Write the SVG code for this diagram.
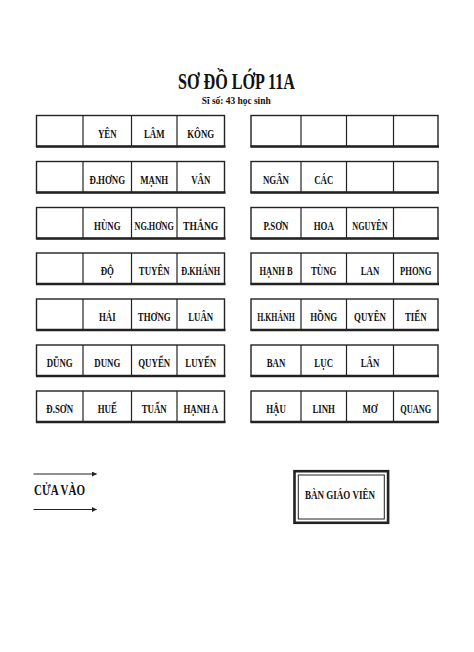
<svg xmlns="http://www.w3.org/2000/svg" width="474" height="652" viewBox="0 0 474 652">
<style>
.bg{fill:#fff}
.box{fill:#fff;stroke:#222;stroke-width:1.4}
.bot{stroke:#222;stroke-width:2.6}
.div{stroke:#222;stroke-width:1.2}
.t{font-family:"Liberation Serif","Times New Roman",serif;font-weight:bold;fill:#111}
.c{font-size:13px;text-anchor:middle}
.arr{stroke:#222;stroke-width:1.1;fill:none}
</style>
<defs>
<marker id="ah" viewBox="0 0 6 6" refX="5.5" refY="3" markerWidth="5" markerHeight="5" markerUnits="userSpaceOnUse" orient="auto"><path d="M0,0 L6,3 L0,6 Z" fill="#222"/></marker>
<g id="rowL">
<rect class="box" x="36.5" y="0" width="188" height="31"/>
<line class="bot" x1="36" y1="31" x2="225.5" y2="31"/>
<line class="div" x1="83" y1="0" x2="83" y2="31"/>
<line class="div" x1="131.5" y1="0" x2="131.5" y2="31"/>
<line class="div" x1="177" y1="0" x2="177" y2="31"/>
</g>
<g id="rowR">
<rect class="box" x="251" y="0" width="187" height="31"/>
<line class="bot" x1="250.5" y1="31" x2="439" y2="31"/>
<line class="div" x1="301" y1="0" x2="301" y2="31"/>
<line class="div" x1="346.5" y1="0" x2="346.5" y2="31"/>
<line class="div" x1="393.5" y1="0" x2="393.5" y2="31"/>
</g>
</defs>
<rect class="bg" x="0" y="0" width="474" height="652"/>

<g id="title">
<text class="t" x="236.5" y="88.5" font-size="24" text-anchor="middle" textLength="117" lengthAdjust="spacingAndGlyphs">SƠ ĐỒ LỚP 11A</text>
<text class="t" x="236.2" y="103.5" font-size="10.5" text-anchor="middle" textLength="69" lengthAdjust="spacingAndGlyphs">Sĩ số: 43 học sinh</text>
</g>

<g id="left-table">
<g id="L1" transform="translate(0,115.5)"><use href="#rowL"/>
<text class="t c" transform="translate(107.3,22) scale(0.68,1)">YÊN</text>
<text class="t c" transform="translate(154.2,22) scale(0.68,1)">LÂM</text>
<text class="t c" transform="translate(200.7,22) scale(0.68,1)">KÔNG</text></g>
<g id="L2" transform="translate(0,161.5)"><use href="#rowL"/>
<text class="t c" transform="translate(107.3,22) scale(0.68,1)">Đ.HƠNG</text>
<text class="t c" transform="translate(154.2,22) scale(0.68,1)">MẠNH</text>
<text class="t c" transform="translate(200.7,22) scale(0.68,1)">VÂN</text></g>
<g id="L3" transform="translate(0,207.5)"><use href="#rowL"/>
<text class="t c" transform="translate(107.3,22) scale(0.68,1)">HÙNG</text>
<text class="t c" transform="translate(154.2,22) scale(0.63,1)">NG.HƠNG</text>
<text class="t c" transform="translate(200.7,22) scale(0.74,1)">THẮNG</text></g>
<g id="L4" transform="translate(0,253)"><use href="#rowL"/>
<text class="t c" transform="translate(107.3,22) scale(0.68,1)">ĐỘ</text>
<text class="t c" transform="translate(154.2,22) scale(0.68,1)">TUYÊN</text>
<text class="t c" transform="translate(200.7,22) scale(0.63,1)">Đ.KHÁNH</text></g>
<g id="L5" transform="translate(0,299)"><use href="#rowL"/>
<text class="t c" transform="translate(107.3,22) scale(0.68,1)">HẢI</text>
<text class="t c" transform="translate(154.2,22) scale(0.68,1)">THƠNG</text>
<text class="t c" transform="translate(200.7,22) scale(0.68,1)">LUÂN</text></g>
<g id="L6" transform="translate(0,345)"><use href="#rowL"/>
<text class="t c" transform="translate(59.7,22) scale(0.68,1)">DŨNG</text>
<text class="t c" transform="translate(107.3,22) scale(0.68,1)">DUNG</text>
<text class="t c" transform="translate(154.2,22) scale(0.68,1)">QUYỂN</text>
<text class="t c" transform="translate(200.7,22) scale(0.68,1)">LUYẾN</text></g>
<g id="L7" transform="translate(0,391)"><use href="#rowL"/>
<text class="t c" transform="translate(59.7,22) scale(0.68,1)">Đ.SƠN</text>
<text class="t c" transform="translate(107.3,22) scale(0.68,1)">HUẾ</text>
<text class="t c" transform="translate(154.2,22) scale(0.68,1)">TUẤN</text>
<text class="t c" transform="translate(200.7,22) scale(0.68,1)">HẠNH A</text></g>
</g>

<g id="right-table">
<g id="R1" transform="translate(0,115.5)"><use href="#rowR"/></g>
<g id="R2" transform="translate(0,161.5)"><use href="#rowR"/>
<text class="t c" transform="translate(276,22) scale(0.68,1)">NGÂN</text>
<text class="t c" transform="translate(323.7,22) scale(0.68,1)">CÁC</text></g>
<g id="R3" transform="translate(0,207.5)"><use href="#rowR"/>
<text class="t c" transform="translate(276,22) scale(0.68,1)">P.SƠN</text>
<text class="t c" transform="translate(323.7,22) scale(0.68,1)">HOA</text>
<text class="t c" transform="translate(370,22) scale(0.63,1)">NGUYÊN</text></g>
<g id="R4" transform="translate(0,253)"><use href="#rowR"/>
<text class="t c" transform="translate(276,22) scale(0.65,1)">HẠNH B</text>
<text class="t c" transform="translate(323.7,22) scale(0.68,1)">TÙNG</text>
<text class="t c" transform="translate(370,22) scale(0.68,1)">LAN</text>
<text class="t c" transform="translate(415.7,22) scale(0.66,1)">PHONG</text></g>
<g id="R5" transform="translate(0,299)"><use href="#rowR"/>
<text class="t c" transform="translate(276,22) scale(0.6,1)">H.KHÁNH</text>
<text class="t c" transform="translate(323.7,22) scale(0.68,1)">HỒNG</text>
<text class="t c" transform="translate(370,22) scale(0.68,1)">QUYÊN</text>
<text class="t c" transform="translate(415.7,22) scale(0.68,1)">TIẾN</text></g>
<g id="R6" transform="translate(0,345)"><use href="#rowR"/>
<text class="t c" transform="translate(276,22) scale(0.68,1)">BAN</text>
<text class="t c" transform="translate(323.7,22) scale(0.68,1)">LỤC</text>
<text class="t c" transform="translate(370,22) scale(0.68,1)">LÂN</text></g>
<g id="R7" transform="translate(0,391)"><use href="#rowR"/>
<text class="t c" transform="translate(276,22) scale(0.68,1)">HẬU</text>
<text class="t c" transform="translate(323.7,22) scale(0.68,1)">LINH</text>
<text class="t c" transform="translate(370,22) scale(0.68,1)">MƠ</text>
<text class="t c" transform="translate(415.7,22) scale(0.64,1)">QUANG</text></g>
</g>

<g id="connectors">
<line class="arr" x1="33.5" y1="474" x2="96.5" y2="474" marker-end="url(#ah)"/>
<line class="arr" x1="33.5" y1="509.5" x2="96.5" y2="509.5" marker-end="url(#ah)"/>
</g>

<g id="door">
<text class="t" x="34" y="494.5" font-size="14.5" textLength="51" lengthAdjust="spacingAndGlyphs">CỬA VÀO</text>
</g>

<g id="teacher-desk">
<rect x="294.5" y="471.2" width="93.6" height="51.6" fill="#fff" stroke="#222" stroke-width="2.6"/>
<rect x="298.3" y="475" width="86" height="44" fill="none" stroke="#222" stroke-width="1"/>
<text class="t" x="340" y="499.3" font-size="13" text-anchor="middle" textLength="70" lengthAdjust="spacingAndGlyphs">BÀN GIÁO VIÊN</text>
</g>
</svg>
